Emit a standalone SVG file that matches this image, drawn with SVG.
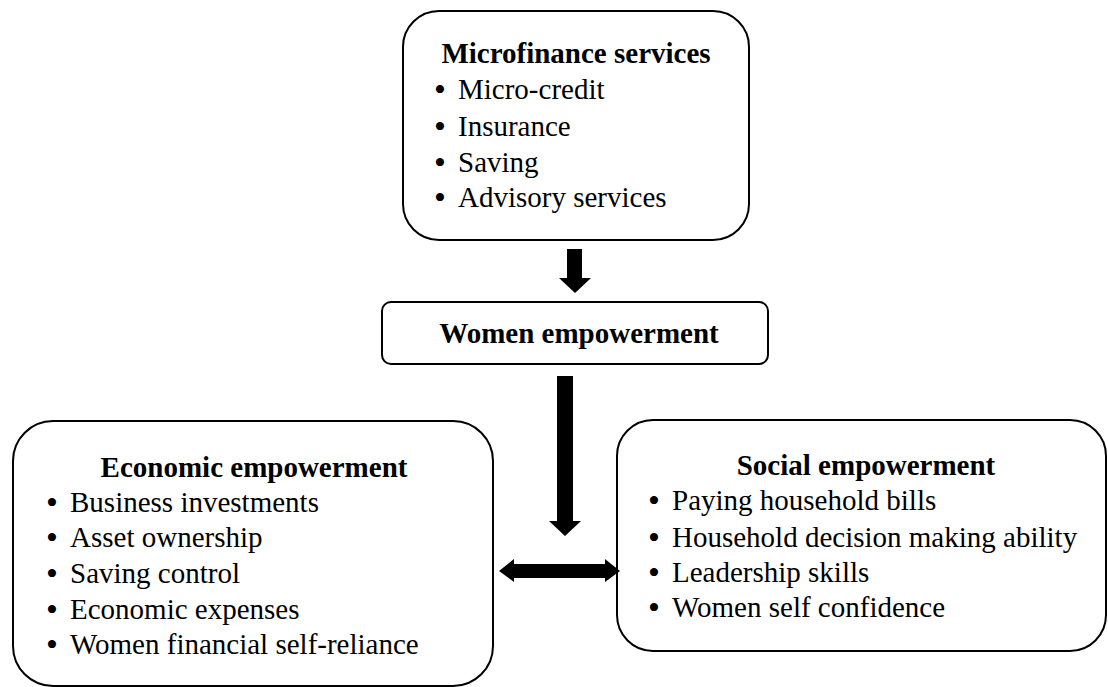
<svg xmlns="http://www.w3.org/2000/svg" width="1108" height="687" viewBox="0 0 1108 687">
  <style>
    .box { fill: #ffffff; stroke: #000000; stroke-width: 2; }
    .title { font-family: "Liberation Serif", "Times New Roman", serif; font-size: 29px; font-weight: bold; fill: #000000; text-anchor: middle; }
    .item { font-family: "Liberation Serif", "Times New Roman", serif; font-size: 29px; fill: #000000; }
    .bullet { font-family: "Liberation Serif", "Times New Roman", serif; font-size: 34px; fill: #000000; }
    .arrow { fill: #000000; stroke: none; }
  </style>
  <rect width="1108" height="687" fill="#ffffff"/>

  <!-- Microfinance services -->
  <g id="microfinance">
    <rect class="box" x="403" y="11" width="346" height="229" rx="36" ry="36"/>
    <text class="title" x="576" y="63">Microfinance services</text>
    <text class="bullet" x="434" y="100.5">•</text><text class="item" x="458" y="99">Micro-credit</text>
    <text class="bullet" x="434" y="137.5">•</text><text class="item" x="458" y="136">Insurance</text>
    <text class="bullet" x="434" y="173.5">•</text><text class="item" x="458" y="172">Saving</text>
    <text class="bullet" x="434" y="208.5">•</text><text class="item" x="458" y="207">Advisory services</text>
  </g>

  <!-- Women empowerment -->
  <g id="women-empowerment">
    <rect class="box" x="382" y="302" width="386" height="62" rx="9" ry="9"/>
    <text class="title" x="579" y="343">Women empowerment</text>
  </g>

  <!-- Economic empowerment -->
  <g id="economic-empowerment">
    <rect class="box" x="13" y="421" width="480" height="265" rx="40" ry="40"/>
    <text class="title" x="254" y="477">Economic empowerment</text>
    <text class="bullet" x="46" y="513.5">•</text><text class="item" x="70" y="512">Business investments</text>
    <text class="bullet" x="46" y="548.5">•</text><text class="item" x="70" y="547">Asset ownership</text>
    <text class="bullet" x="46" y="584.5">•</text><text class="item" x="70" y="583">Saving control</text>
    <text class="bullet" x="46" y="620.5">•</text><text class="item" x="70" y="619">Economic expenses</text>
    <text class="bullet" x="46" y="655.5">•</text><text class="item" x="70" y="654">Women financial self-reliance</text>
  </g>

  <!-- Social empowerment -->
  <g id="social-empowerment">
    <rect class="box" x="617" y="420" width="489" height="231" rx="36" ry="36"/>
    <text class="title" x="866" y="475">Social empowerment</text>
    <text class="bullet" x="648" y="511.5">•</text><text class="item" x="672" y="510">Paying household bills</text>
    <text class="bullet" x="648" y="548.5">•</text><text class="item" x="672" y="547">Household decision making ability</text>
    <text class="bullet" x="648" y="583.5">•</text><text class="item" x="672" y="582">Leadership skills</text>
    <text class="bullet" x="648" y="618.5">•</text><text class="item" x="672" y="617">Women self confidence</text>
  </g>

  <!-- Connectors: block arrows -->
  <g id="connectors">
    <polygon class="arrow" points="567,249 582,249 582,278 591,278 575,293 559,278 567,278"/>
    <polygon class="arrow" points="557,376 573,376 573,521 581,521 565,536 549,521 557,521"/>
    <polygon class="arrow" points="499,571 514,559 514,564 605,564 605,559 620,571 605,582 605,578 514,578 514,582"/>
  </g>
</svg>
